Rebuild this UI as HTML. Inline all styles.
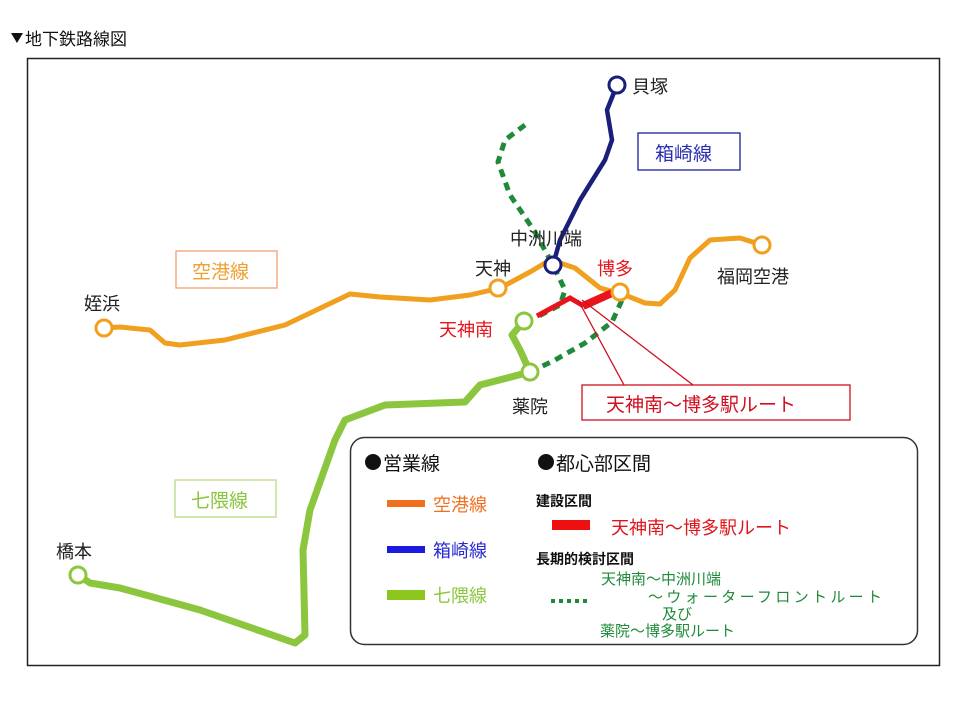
<!DOCTYPE html>
<html><head><meta charset="utf-8"><style>
body{margin:0;background:#fff;width:960px;height:720px;overflow:hidden;font-family:"Liberation Sans","Noto Sans CJK JP",sans-serif;}
</style></head><body>
<svg width="960" height="720" viewBox="0 0 960 720" xmlns="http://www.w3.org/2000/svg" font-family="Liberation Sans, Noto Sans CJK JP, sans-serif">
<path d="M11,33 L23,33 L17,43 Z" fill="#111"/>
<text x="25" y="45" font-size="17" fill="#111">地下鉄路線図</text>
<rect x="27.5" y="58.5" width="912" height="607" fill="none" stroke="#222" stroke-width="1.5"/>
<!-- dashed green -->
<path d="M525,125 L505,140 L498,162 L510,195 L535,232 L553,265 L565,290 L560,305 L535,318" fill="none" stroke="#1e8a3a" stroke-width="5" stroke-dasharray="8,6"/>
<path d="M530,372 L555,360 L585,343 L612,322 L622,300" fill="none" stroke="#1e8a3a" stroke-width="5" stroke-dasharray="8,6"/>
<!-- orange -->
<path d="M104,328 L120,327 L150,330 L165,343 L180,345 L225,340 L285,325 L350,294 L380,297 L430,300 L470,295 L500,288 L530,272 L545,263 L560,263 L575,268 L600,288 L625,295 L645,303 L660,304 L675,290 L690,258 L710,240 L740,238 L762,245" fill="none" stroke="#f0a01e" stroke-width="5" stroke-linejoin="round"/>
<!-- blue -->
<path d="M617,85 L607,110 L612,140 L605,160 L580,200 L560,240 L553,265" fill="none" stroke="#1a1f7a" stroke-width="4.5" stroke-linejoin="round"/>
<!-- green -->
<path d="M524,321 L512,335 L520,350 L530,372 L480,385 L465,402 L385,405 L345,420 L335,440 L310,510 L303,550 L305,635 L295,643 L200,610 L120,588 L90,583 L78,575" fill="none" stroke="#8cc63e" stroke-width="7" stroke-linejoin="round"/>
<!-- red -->
<path d="M537,316 L570,298 L582,305 L612,293" fill="none" stroke="#e8141c" stroke-width="5"/>
<path d="M583,306 L612,293" fill="none" stroke="#e8141c" stroke-width="8"/>
<!-- callout -->
<path d="M578,300 L624,385 M582,300 L693,385" stroke="#d01020" stroke-width="1.3" fill="none"/>
<rect x="582" y="385" width="268" height="35" fill="#fff" stroke="#d01020" stroke-width="1.3"/>
<text x="606" y="411" font-size="19" fill="#d01020">天神南～博多駅ルート</text>
<!-- stations -->
<g fill="#fff" stroke-width="3">
<circle cx="617" cy="85" r="8" stroke="#1a1f7a"/>
<circle cx="553" cy="265" r="8" stroke="#1a1f7a"/>
<circle cx="104" cy="328" r="8" stroke="#f0a01e"/>
<circle cx="498" cy="288" r="8" stroke="#f0a01e"/>
<circle cx="620" cy="292" r="8" stroke="#f0a01e"/>
<circle cx="762" cy="245" r="8" stroke="#f0a01e"/>
<circle cx="524" cy="321" r="8" stroke="#8cc63e"/>
<circle cx="530" cy="372" r="8" stroke="#8cc63e"/>
<circle cx="78" cy="575" r="8" stroke="#8cc63e"/>
</g>
<g font-size="18" fill="#222">
<text x="632" y="93">貝塚</text>
<text x="510" y="245">中洲川端</text>
<text x="475" y="275">天神</text>
<text x="717" y="283">福岡空港</text>
<text x="84" y="310">姪浜</text>
<text x="512" y="413">薬院</text>
<text x="56" y="558">橋本</text>
</g>
<text x="597" y="275" font-size="18" fill="#e8141c">博多</text>
<text x="439" y="336" font-size="18" fill="#e8141c">天神南</text>
<!-- line name boxes -->
<rect x="638" y="133" width="102" height="37" fill="#fff" stroke="#1a1f9a" stroke-width="1.3"/>
<text x="655" y="160" font-size="19" fill="#2a2fb0">箱崎線</text>
<rect x="176" y="251" width="101" height="37" fill="#fff" stroke="#f0a070" stroke-width="1.3"/>
<text x="192" y="278" font-size="19" fill="#f0a030">空港線</text>
<rect x="175" y="480" width="101" height="37" fill="#fff" stroke="#b8dc80" stroke-width="1.3"/>
<text x="191" y="507" font-size="19" fill="#8cc63e">七隈線</text>
<!-- legend -->
<rect x="350.5" y="437.5" width="567" height="207" rx="14" fill="#fff" stroke="#333" stroke-width="1.5"/>
<circle cx="373" cy="462" r="8" fill="#111"/>
<text x="383" y="470" font-size="19" fill="#111">営業線</text>
<circle cx="546" cy="462" r="8" fill="#111"/>
<text x="556" y="470" font-size="19" fill="#111">都心部区間</text>
<rect x="387" y="500" width="38" height="7" fill="#f07020"/>
<text x="433" y="511" font-size="18" fill="#f07020">空港線</text>
<rect x="387" y="546" width="38" height="7" fill="#1a1ae0"/>
<text x="433" y="557" font-size="18" fill="#2a2ad0">箱崎線</text>
<rect x="387" y="590" width="38" height="10" fill="#8cc61e"/>
<text x="433" y="602" font-size="18" fill="#8cc63e">七隈線</text>
<text x="536" y="506" font-size="14" fill="#111" font-weight="bold">建設区間</text>
<rect x="552" y="520" width="38" height="10" fill="#ee1010"/>
<text x="611" y="534" font-size="18" fill="#e0141c">天神南～博多駅ルート</text>
<text x="536" y="564" font-size="14" fill="#111" font-weight="bold">長期的検討区間</text>
<path d="M551,601 L588,601" stroke="#1e8a3a" stroke-width="4" stroke-dasharray="4,4"/>
<g font-size="15" fill="#1e8a3a">
<text x="601" y="584">天神南～中洲川端</text>
<text x="648" y="602" textLength="234">～ウォーターフロントルート</text>
<text x="662" y="619">及び</text>
<text x="600" y="636">薬院～博多駅ルート</text>
</g>
</svg>
</body></html>
